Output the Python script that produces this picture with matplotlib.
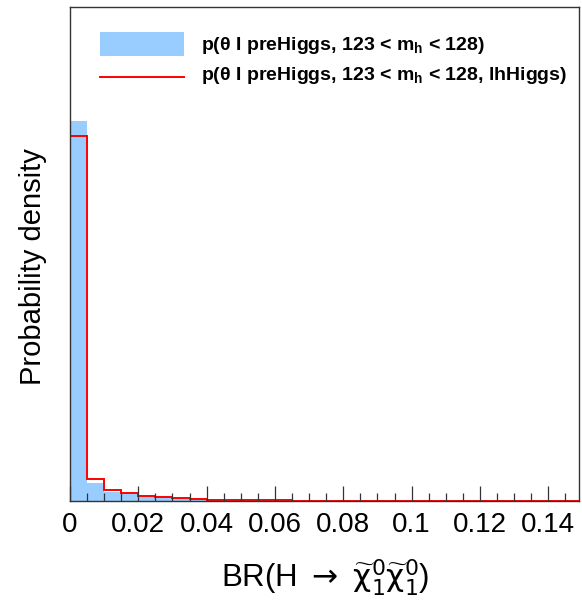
import numpy as np
import matplotlib
matplotlib.use("Agg")
import matplotlib.pyplot as plt
from matplotlib.patches import Patch
from matplotlib.lines import Line2D
from matplotlib.legend_handler import HandlerLine2D
from matplotlib.ticker import MultipleLocator, FuncFormatter

plt.rcParams['font.family'] = ['Liberation Sans', 'DejaVu Sans']
plt.rcParams['mathtext.fontset'] = 'custom'
plt.rcParams['mathtext.rm'] = 'Liberation Sans'
plt.rcParams['mathtext.it'] = 'Liberation Sans:italic'
plt.rcParams['mathtext.bf'] = 'Liberation Sans:bold'

# Histogram data (bin width 0.005 over 0 - 0.15)
bin_edges = np.round(np.arange(0, 0.1501, 0.005), 4)
pre_higgs = [177.9, 8.3, 4.35, 3.1, 2.0, 1.7, 1.1, 0.6, 0.45, 0.35,
             0.3, 0.25, 0.2, 0.17, 0.14, 0.12, 0.1, 0.08, 0.07, 0.06,
             0.05, 0.04, 0.04, 0.03, 0.03, 0.02, 0.02, 0.02, 0.01, 0.01]
lh_higgs = [170.6, 10.3, 5.15, 3.6, 2.34, 2.0, 1.26, 0.8, 0.6, 0.47,
            0.47, 0.37, 0.28, 0.23, 0.19, 0.19, 0.14, 0.14, 0.09, 0.09,
            0.09, 0.05, 0.05, 0.05, 0.05, 0.03, 0.03, 0.02, 0.02, 0.02]
label_pre = 'p(θ I preHiggs, 123 < m$_{\\mathbf{h}}$ < 128)'
label_lh = 'p(θ I preHiggs, 123 < m$_{\\mathbf{h}}$ < 128, lhHiggs)'


class LoweredLine(HandlerLine2D):
    """Legend line drawn a little below the centre of its entry."""
    def create_artists(self, legend, orig_handle, xdescent, ydescent,
                       width, height, fontsize, trans):
        return super().create_artists(legend, orig_handle, xdescent,
                                      ydescent + 9.0, width, height,
                                      fontsize, trans)


W, H = 582, 605
fig = plt.figure(figsize=(W / 100, H / 100), dpi=100)
ax = fig.add_axes([70 / W, 1 - 501 / H, (579 - 70) / W, (501 - 7) / H])

blue = '#99ccff'
ax.stairs(pre_higgs, bin_edges, fill=True, color=blue, linewidth=0)
ax.stairs(lh_higgs, bin_edges, color='#ff0000', linewidth=1.4, baseline=None)

ax.set_xlim(0, 0.149)
ax.set_ylim(0, 231)

ax.xaxis.set_major_locator(MultipleLocator(0.02))
ax.xaxis.set_minor_locator(MultipleLocator(0.005))
ax.xaxis.set_major_formatter(FuncFormatter(lambda v, p: '%g' % round(v, 4)))
ax.tick_params(axis='x', which='major', direction='in', length=10.8, width=0.9,
               color='#333333', labelsize=20, pad=8)
ax.tick_params(axis='x', which='minor', direction='in', length=5.5, width=0.9,
               color='#333333')
ax.tick_params(axis='y', which='both', left=False, labelleft=False)
for s in ax.spines.values():
    s.set_linewidth(1.0)
    s.set_color('#333333')

fig.text(33 / W, 1 - 267 / H, 'Probability density', rotation=90,
         ha='center', va='center', fontsize=21)
fig.text(325 / W, 1 - 578 / H,
         r'BR(H$\;\rightarrow\;\widetilde{\mathrm{\chi}}_{1}^{0}\widetilde{\mathrm{\chi}}_{1}^{0}$)',
         ha='center', va='center', fontsize=22.5, math_fontfamily='dejavusans')

red_handle = Line2D([], [], color='#ff0000', linewidth=1.4)
handles = [Patch(facecolor=blue, edgecolor='none'), red_handle]
fs = 14
fs_px = fs * 100 / 72
hh = (24 / fs_px - 0.245) / 0.65
leg = ax.legend(handles, [label_pre, label_lh], loc='upper left',
                bbox_to_anchor=(100 / W, 1 - 31.7 / H),
                bbox_transform=fig.transFigure, frameon=False,
                prop={'weight': 'bold', 'size': fs},
                handlelength=84 / fs_px, handleheight=hh,
                handletextpad=17 / fs_px, labelspacing=0.3,
                borderpad=0, borderaxespad=0,
                handler_map={red_handle: LoweredLine()})

fig.savefig('out.png', dpi=100)
